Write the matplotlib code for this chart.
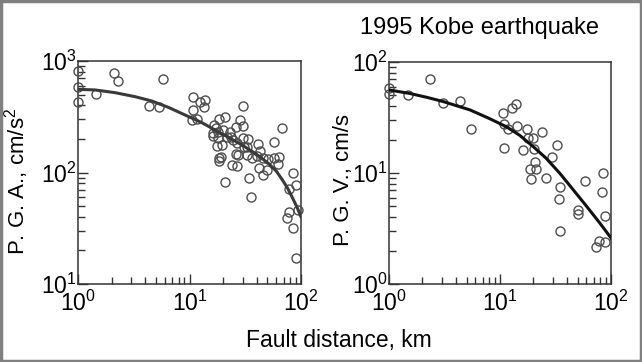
import numpy as np
import matplotlib
matplotlib.use('Agg')
import matplotlib.pyplot as plt
from matplotlib.patches import Rectangle
from matplotlib.ticker import LogLocator, NullFormatter

plt.rcParams.update({
    'font.family': ['Liberation Sans', 'DejaVu Sans'],
    'mathtext.fontset': 'custom',
    'mathtext.rm': 'Liberation Sans',
    'mathtext.it': 'Liberation Sans',
    'axes.linewidth': 1.1,
    'axes.edgecolor': '#333333',
})

# ─── Data ───
pga_dist = [1.0, 1.0, 1.0, 2.10, 2.30, 5.82, 1.44, 4.36, 5.36, 10.7, 10.8, 10.5, 11.7,
            12.4, 13.8, 13.5, 30.0, 16.6, 18.5, 20.7, 17.3, 16.3, 18.1, 20.1, 17.8, 19.7,
            19.3, 18.3, 20.8, 23.1, 21.6, 23.6, 26.0, 28.4, 30.4, 24.7, 26.5, 26.0, 27.4,
            24.0, 26.5, 30.0, 31.0, 33.7, 32.6, 32.6, 36.1, 34.2, 35.4, 41.4, 42.9, 40.1,
            45.9, 42.0, 45.9, 49.2, 57.6, 50.9, 57.6, 63.8, 62.6, 68.0, 85.3, 89.6, 77.6,
            94.6, 78.5, 74.5, 85.3, 90.2, 16.1, 17.9, 18.5]
pga = [820, 590, 432, 785, 666, 690, 502, 397, 389, 479, 364, 296, 300,
       432, 447, 384, 397, 267, 300, 313, 249, 212, 232, 241, 173, 177,
       139, 127, 82, 232, 207, 210, 254, 296, 261, 196, 183, 147, 144,
       117, 114, 203, 170, 199, 170, 144, 134, 89, 60, 179, 156, 141,
       134, 109, 95, 105, 187, 131, 134, 137, 118, 252, 98, 78, 71,
       46, 44, 39, 32, 17, 225, 203, 134]

pga_fit_dist = [1.0, 1.42, 2.15, 3.24, 4.58, 6.46, 9.12, 12.9, 16.9, 22.3, 29.4,
                38.7, 50.9, 60, 68, 76, 84, 92, 100]
pga_fit = [557, 550, 520, 479, 438, 384, 328, 280, 241, 207, 177,
           149, 121, 103, 86, 72, 59, 49, 40]

pgv_dist = [0.99, 0.99, 1.49, 2.34, 3.08, 4.36, 5.48, 10.6, 10.9, 10.9, 11.9, 12.7,
            13.8, 14.1, 17.4, 18.0, 19.9, 23.7, 16.2, 20.4, 32.6, 29.7, 20.8, 18.5,
            21.0, 19.2, 25.8, 34.4, 34.0, 35.0, 58.0, 50.5, 50.5, 84.7, 83.0, 88.3,
            72.8, 78.0, 88.3]
pgv = [58, 51.5, 50.5, 70, 43, 44.6, 24.9, 34.5, 27.5, 16.7, 24.8, 38.7,
       41.6, 26.6, 24.9, 20.6, 20.6, 23.3, 16.1, 16.4, 17.9, 14.0, 12.6, 10.8,
       10.8, 8.8, 9.0, 7.5, 5.8, 3.0, 8.5, 4.6, 4.3, 10.1, 6.7, 4.1,
       2.14, 2.44, 2.4]

pgv_fit_dist = [1.0, 1.55, 2.2, 3.08, 5.37, 8.0, 11.5, 15.0, 19.9, 26.0, 34.7, 46.0,
                60.4, 80.0, 100]
pgv_fit = [56, 52, 48, 44, 37, 31, 26, 21.9, 17.3, 13.6, 9.9, 7.0,
           5.0, 3.5, 2.6]

# ─── Figure ───
fig = plt.figure(figsize=(6.42, 3.62), dpi=100)
ax1 = fig.add_axes([78 / 642, 1 - 284 / 362, 223 / 642, 223 / 362])
ax2 = fig.add_axes([389 / 642, 1 - 284 / 362, 222 / 642, 222 / 362])


def style_axis(ax, ylim):
    ax.set_xscale('log')
    ax.set_yscale('log')
    ax.set_xlim(1, 100)
    ax.set_ylim(*ylim)
    for a in (ax.xaxis, ax.yaxis):
        a.set_major_locator(LogLocator(base=10, numticks=10))
        a.set_minor_locator(LogLocator(base=10, subs=np.arange(2, 10), numticks=10))
        a.set_minor_formatter(NullFormatter())
    ax.tick_params(which='both', direction='in', top=False, right=False,
                   color='#333333', width=1.0)
    ax.tick_params(which='major', length=7, labelsize=16.5)
    ax.tick_params(which='minor', length=5)
    ax.tick_params(axis='y', pad=1)
    ax.tick_params(axis='x', pad=5)


for ax, d, v, fd, fv, col, ylim, lab in [
        (ax1, pga_dist, pga, pga_fit_dist, pga_fit, '#3a3a3a', (10, 1000),
         'P. G. A., cm/s$^2$'),
        (ax2, pgv_dist, pgv, pgv_fit_dist, pgv_fit, '#111111', (1, 100),
         'P. G. V., cm/s')]:
    style_axis(ax, ylim)
    ax.plot(d, v, linestyle='none', marker='o', markersize=6.5,
            markerfacecolor='none', markeredgecolor='#4d4d4d',
            markeredgewidth=1.0, clip_on=False, zorder=3)
    ax.plot(fd, fv, color=col, linewidth=2.2, zorder=4)
    ax.set_ylabel(lab, fontsize=16, labelpad=0)

ax1.yaxis.set_label_coords(-0.21, 0.46)
ax2.yaxis.set_label_coords(-0.158, 0.468)

fig.text(480 / 642, 1 - 28 / 362, '1995 Kobe earthquake', fontsize=17,
         ha='center', va='center')
fig.text(339 / 642, 1 - 341 / 362, 'Fault distance, km', fontsize=16.5,
         ha='center', va='center')

# outer frame
fig.patches.append(Rectangle((0.002, 0.003), 0.996, 0.994, transform=fig.transFigure,
                             fill=False, edgecolor='#808080', linewidth=2.5))

fig.savefig('out.png', dpi=100)
